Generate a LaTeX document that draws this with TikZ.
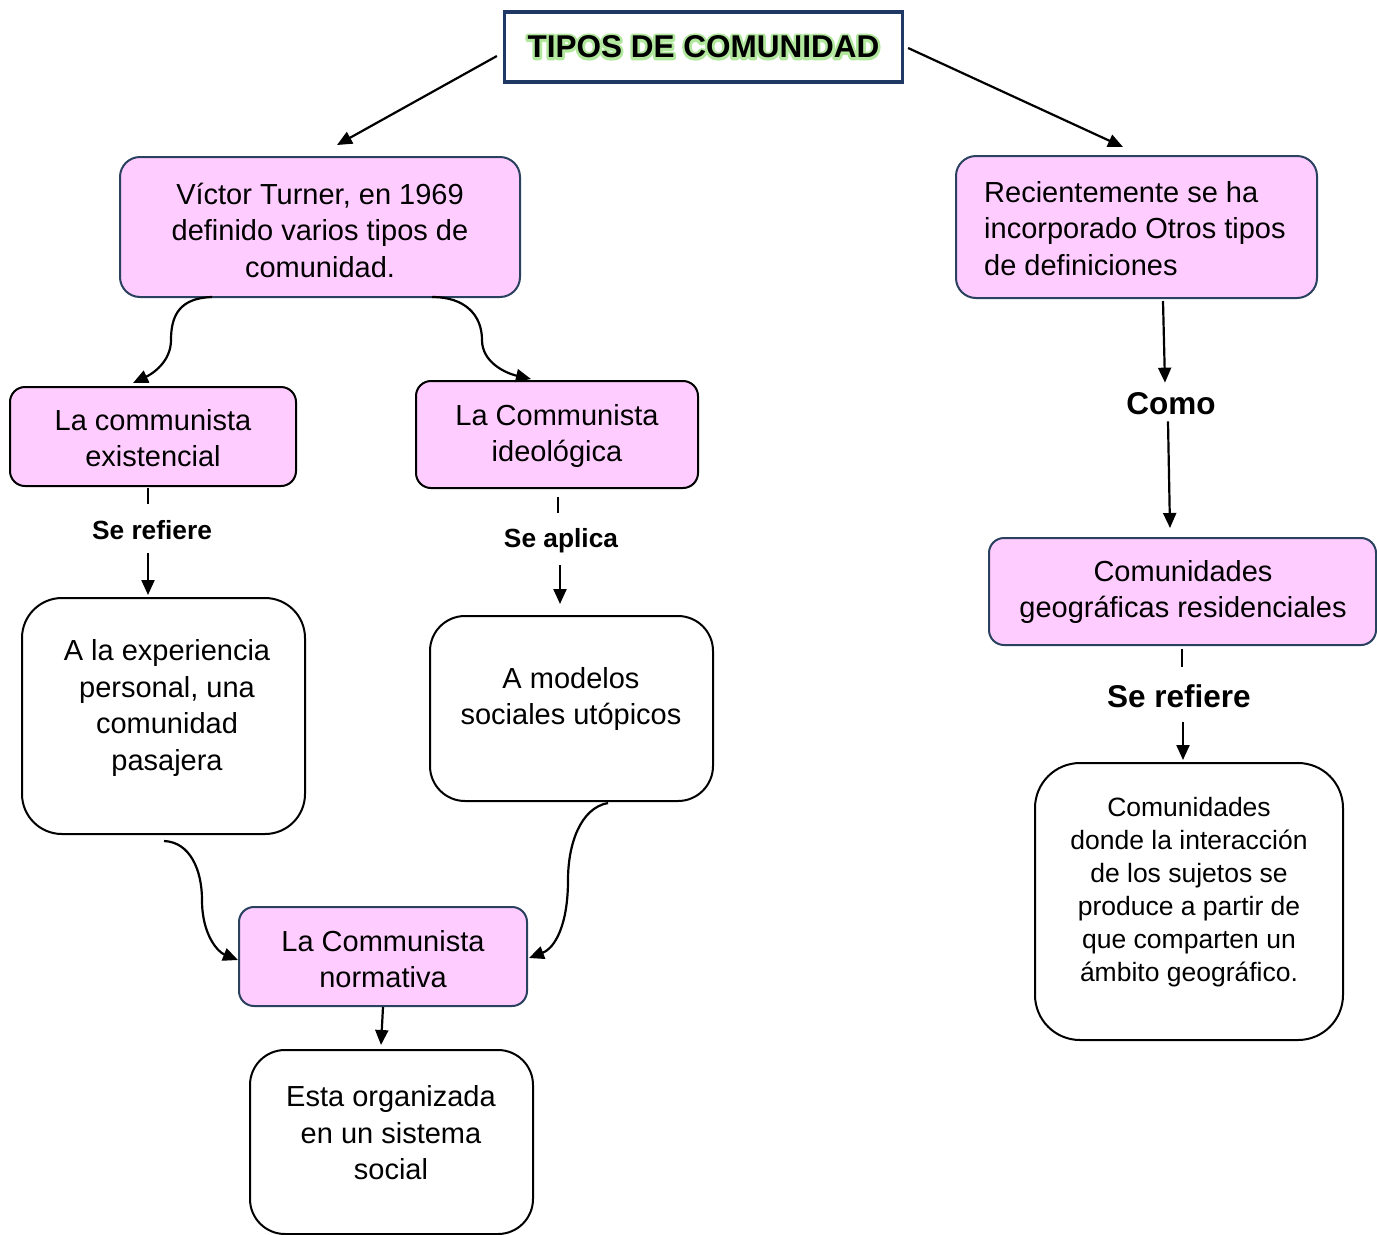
\documentclass[tikz,border=0pt]{standalone}
\usepackage{fontspec}
\setmainfont{Liberation Sans}
\newfontfamily\glowfont[FakeBold=16]{Liberation Sans Bold}
\newfontfamily\titlefont{Liberation Sans Bold}
\usetikzlibrary{arrows.meta,calc}
\definecolor{pinkf}{HTML}{FFCCFF}
\definecolor{navyb}{HTML}{2B4160}
\definecolor{titleb}{HTML}{1F3864}
\definecolor{glow}{HTML}{B2E89E}
\tikzset{
  pbox/.style={draw=navyb,line width=2pt,fill=pinkf,rounded corners=#1,inner sep=0pt},
  pboxk/.style={draw=black,line width=2pt,fill=pinkf,rounded corners=#1,inner sep=0pt},
  wbox/.style={draw=black,line width=2pt,fill=white,rounded corners=#1,inner sep=0pt},
  txt/.style={align=center,inner sep=0pt,font=\fontsize{29}{36.5}\selectfont},
  stxt/.style={align=center,inner sep=0pt,font=\fontsize{26.5}{33}\selectfont},
  lblS/.style={inner sep=0pt,font=\bfseries\fontsize{26.3}{30}\selectfont},
  lblL/.style={inner sep=0pt,font=\bfseries\fontsize{31.5}{34}\selectfont},
  conn/.style={line width=2.2pt},
  arr/.style={line width=2.2pt,-{Triangle[length=15pt,width=13pt]}},
}
\begin{document}
\begin{tikzpicture}[x=1pt,y=-1pt]
\useasboundingbox[fill=white] (0,0) rectangle (1377,1235);
% title
\node[draw=titleb,line width=3.2pt,fill=white,minimum width=398pt,minimum height=70pt,inner sep=0pt] (T) at (703.5,47) {};
\begin{scope}[line join=round,line cap=round]
\node[text=glow,inner sep=0pt,font=\glowfont\fontsize{31.5}{34}\selectfont] (Tg) at (T.center) {TIPOS DE COMUNIDAD};
\end{scope}
\node[inner sep=0pt,font=\titlefont\fontsize{31.5}{34}\selectfont] (Tt) at (T.center) {TIPOS DE COMUNIDAD};

% boxes
\node[pbox=20pt,minimum width=400pt,minimum height=140pt] (A) at (320,227) {};
\node[txt] (At) at (320,230) {Víctor Turner, en 1969\\definido varios tipos de\\comunidad.};

\node[pbox=20pt,minimum width=361pt,minimum height=142pt] (B) at (1136.5,227) {};
\node[txt,align=left,anchor=west] (Bt) at (984,228.5) {Recientemente se ha\\incorporado Otros tipos\\de definiciones};

\node[pboxk=15pt,minimum width=286pt,minimum height=99pt] (C) at (153,436.5) {};
\node[txt] (Ct) at (153,438) {La communista\\existencial};

\node[pboxk=15pt,minimum width=282pt,minimum height=107pt] (D) at (557,434.5) {};
\node[txt] (Dt) at (557,436) {La Communista\\ideológica};

\node[pbox=15pt,minimum width=387pt,minimum height=107pt] (E) at (1182.5,591.5) {};
\node[txt] (Et) at (1183,592) {Comunidades\\geográficas residenciales};

\node[wbox=40pt,minimum width=283pt,minimum height=236pt] (F) at (163.5,716) {};
\node[txt] (Ft) at (167,708) {A la experiencia\\personal, una\\comunidad\\pasajera};

\node[wbox=35pt,minimum width=283pt,minimum height=185pt] (G) at (571.5,708.5) {};
\node[txt] (Gt) at (571,699) {A modelos\\sociales utópicos};

\node[pbox=15pt,minimum width=288pt,minimum height=99pt] (H) at (383,956.5) {};
\node[txt] (Ht) at (383,959) {La Communista\\normativa};

\node[wbox=35pt,minimum width=283pt,minimum height=184pt] (I) at (391.5,1142) {};
\node[txt] (It) at (391,1133) {Esta organizada\\en un sistema\\social};

\node[wbox=45pt,minimum width=308pt,minimum height=277pt] (J) at (1189,901.5) {};
\node[stxt] (Jt) at (1189,892.5) {Comunidades\\donde la interacción\\de los sujetos se\\produce a partir de\\que comparten un\\ámbito geográfico.};

% labels
\node[lblS] (L1) at (152,530) {Se refiere};
\node[lblS] (L2) at (561,541) {Se aplica};
\node[lblL] (L3) at (1171,404) {Como};
\node[lblL] (L4) at (1179,696) {Se refiere};

% connectors
\draw[arr] ($(T.west)+(-6,9)$) -- ($(A.north)+(17,-11)$);
\draw[arr] ($(T.east)+(4,1)$) -- ($(B.north)+(-13.5,-8)$);

\draw[arr] ($(A.south)+(-108,-1)$) .. controls (180,298) and (171,315) .. (171,340)
   .. controls (171,362) and (152,374) .. ($(C.north)+(-20,-3)$);
\draw[arr] ($(A.south)+(112,-1)$) .. controls (465,297) and (482,315) .. (482,340)
   .. controls (482,362) and (505,373) .. ($(D.north)+(-26,-1)$);

\draw[conn] ($(C.south)+(-5,1)$) -- ($(C.south)+(-5,17)$);
\draw[arr] ($(L1.south)+(-4,13)$) -- ($(F.north)+(-15.5,-2)$);

\draw[conn] ($(D.south)+(1,8)$) -- ($(D.south)+(1,24)$);
\draw[arr] ($(L2.south)+(-1,12)$) -- ($(G.north)+(-11.5,-11)$);

\draw[arr] ($(B.south)+(26.5,2)$) -- ($(L3.north)+(-6,-10)$);
\draw[arr] ($(L3.south)+(-3,6)$) -- ($(E.north)+(-12.5,-9)$);

\draw[conn] ($(E.south)+(-0.5,3)$) -- ($(E.south)+(-0.5,21)$);
\draw[arr] ($(L4.south)+(4,14)$) -- ($(J.north)+(-6,-2)$);

\draw[arr] ($(F.south)+(0.5,6)$) .. controls (190,842) and (202,870) .. (202,900)
   .. controls (202,935) and (218,952) .. ($(H.west)+(0,3.5)$);
\draw[arr] ($(G.south)+(36.5,1)$) .. controls (580,808) and (568,845) .. (568,880)
   .. controls (568,925) and (555,948) .. ($(H.east)+(1,1.5)$);

\draw[arr] (H.south) -- ($(I.north)+(-10.5,-4)$);
\end{tikzpicture}
\end{document}
